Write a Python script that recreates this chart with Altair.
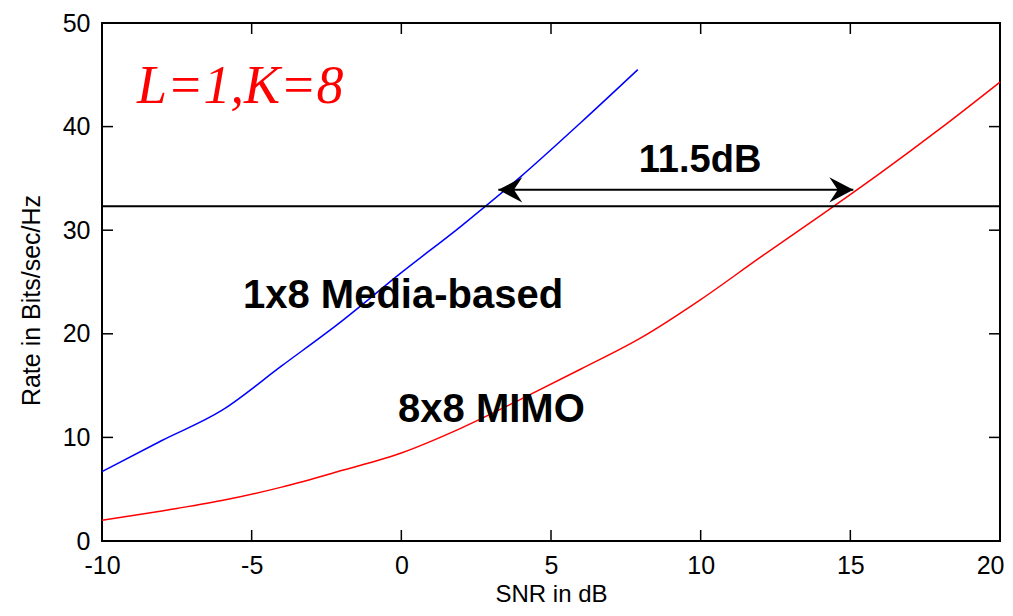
import altair as alt
import pandas as pd

# ---- data ----
snr_blue = [-10, -8, -6, -4, -2, 0, 2, 4, 6, 7.9]
rate_blue = [6.7, 9.7, 12.6, 16.9, 21.2, 25.9, 30.4, 35.2, 40.4, 45.5]

snr_red = [-10, -8, -6, -4, -2, 0, 2, 4, 6, 8, 10, 12, 14, 16, 18, 20]
rate_red = [2.0, 2.9, 3.9, 5.2, 6.8, 8.5, 10.9, 13.7, 16.6, 19.6, 23.3, 27.4, 31.4, 35.5, 39.8, 44.3]

series_names = ["1x8 Media-based", "8x8 MIMO"]
series_colors = ["#0000FF", "#FF0000"]

x_ticks = [-10, -5, 0, 5, 10, 15, 20]
y_ticks = [0, 10, 20, 30, 40, 50]

threshold_rate = 32.3
gap_left_snr = 3.24
gap_right_snr = 15.1
gap_rate = 33.9

ann_text = ["L=1,K=8", "11.5dB", "1x8 Media-based", "8x8 MIMO"]
ann_x = [-8.83, 9.98, -5.29, -0.11]
ann_y = [42.3, 35.6, 22.5, 11.5]

# ---- tables ----
curves = pd.DataFrame({
    "snr": snr_blue + snr_red,
    "rate": rate_blue + rate_red,
    "series": [series_names[0]] * len(snr_blue) + [series_names[1]] * len(snr_red),
})
hline = pd.DataFrame({"snr": [x_ticks[0]], "snr2": [x_ticks[-1]], "rate": [threshold_rate]})
arrow = pd.DataFrame({"snr": [gap_left_snr], "snr2": [gap_right_snr], "rate": [gap_rate]})
left_head = pd.DataFrame({"snr": [gap_left_snr], "rate": [gap_rate]})
right_head = pd.DataFrame({"snr": [gap_right_snr], "rate": [gap_rate]})
xt = pd.DataFrame({"snr": x_ticks})
yt = pd.DataFrame({"rate": y_ticks})

W, H = 898, 518
TL = 11
FONT = "Liberation Sans"

xs = alt.Scale(domain=[x_ticks[0], x_ticks[-1]], nice=False, zero=False)
ys = alt.Scale(domain=[y_ticks[0], y_ticks[-1]], nice=False, zero=False)

last_x = x_ticks[-1]
xaxis = alt.Axis(values=x_ticks, title="SNR in dB", ticks=False, tickSize=0, domain=False,
                 grid=False, labelFontSize=25, labelFont=FONT, labelColor="black",
                 labelPadding=12, labelFlush=False, labelOverlap=False,
                 labelExpr="'' + datum.value",
                 labelAlign={"condition": {"test": f"datum.value == {last_x}", "value": "right"},
                             "value": "center"},
                 labelOffset={"condition": {"test": f"datum.value == {last_x}", "value": 4},
                              "value": 0},
                 titleFont=FONT, titleFontSize=24, titleFontWeight="normal",
                 titleColor="black", titleY=60, titleBaseline="alphabetic")
yaxis = alt.Axis(values=y_ticks, title="Rate in Bits/sec/Hz", ticks=False, tickSize=0,
                 domain=False, grid=False, labelFontSize=25, labelFont=FONT,
                 labelColor="black", labelPadding=12, labelFlush=False, labelOverlap=False,
                 labelExpr="'' + datum.value",
                 titleFont=FONT, titleFontSize=25, titleFontWeight="normal",
                 titleColor="black", titleX=-63, titleY=277, titleAlign="center",
                 titleBaseline="alphabetic")

X = alt.X("snr:Q", scale=xs, axis=xaxis)
Y = alt.Y("rate:Q", scale=ys, axis=yaxis)

lines = alt.Chart(curves).mark_line(strokeWidth=1.5, interpolate="monotone").encode(
    x=X, y=Y,
    color=alt.Color("series:N", scale=alt.Scale(domain=series_names, range=series_colors), legend=None),
)

hrule = alt.Chart(hline).mark_rule(color="black", strokeWidth=2).encode(x=X, x2="snr2:Q", y=Y)
arule = alt.Chart(arrow).mark_rule(color="black", strokeWidth=2).encode(x=X, x2="snr2:Q", y=Y)

lhead = alt.Chart(left_head).mark_point(
    shape="M0,0 L2,-1.05 L1.3,0 L2,1.05 Z", size=576, filled=True, color="black", opacity=1
).encode(x=X, y=Y)
rhead = alt.Chart(right_head).mark_point(
    shape="M0,0 L-2,-1.05 L-1.3,0 L-2,1.05 Z", size=576, filled=True, color="black", opacity=1
).encode(x=X, y=Y)


def text_layer(i, **kw):
    df = pd.DataFrame({"snr": [ann_x[i]], "rate": [ann_y[i]], "label": [ann_text[i]]})
    return alt.Chart(df).mark_text(baseline="alphabetic", **kw).encode(x=X, y=Y, text="label:N")


t0 = text_layer(0, font="Liberation Serif", fontStyle="italic", fontSize=54, color="#FF0000", align="left")
t1 = text_layer(1, font=FONT, fontWeight="bold", fontSize=38, color="black", align="center")
t2 = text_layer(2, font=FONT, fontWeight="bold", fontSize=40, color="black", align="left")
t3 = text_layer(3, font=FONT, fontWeight="bold", fontSize=40, color="black", align="left")

tick_style = dict(color="black", strokeWidth=1.5)
bt = alt.Chart(xt).mark_rule(**tick_style).encode(x=X, y=alt.value(H), y2=alt.value(H - TL))
tt = alt.Chart(xt).mark_rule(**tick_style).encode(x=X, y=alt.value(0), y2=alt.value(TL))
lt = alt.Chart(yt).mark_rule(**tick_style).encode(y=Y, x=alt.value(0), x2=alt.value(TL))
rt = alt.Chart(yt).mark_rule(**tick_style).encode(y=Y, x=alt.value(W - TL), x2=alt.value(W))

chart = alt.layer(
    lines, hrule, arule, lhead, rhead, t0, t1, t2, t3, bt, tt, lt, rt
).properties(
    width=W, height=H,
    background="white",
    autosize=alt.AutoSizeParams(type="none"),
    padding={"left": 94, "top": 15, "right": 5, "bottom": 67},
).configure_view(
    stroke="black", strokeWidth=2
)

chart.save("out.html", embed_options={"renderer": "svg", "actions": False})
